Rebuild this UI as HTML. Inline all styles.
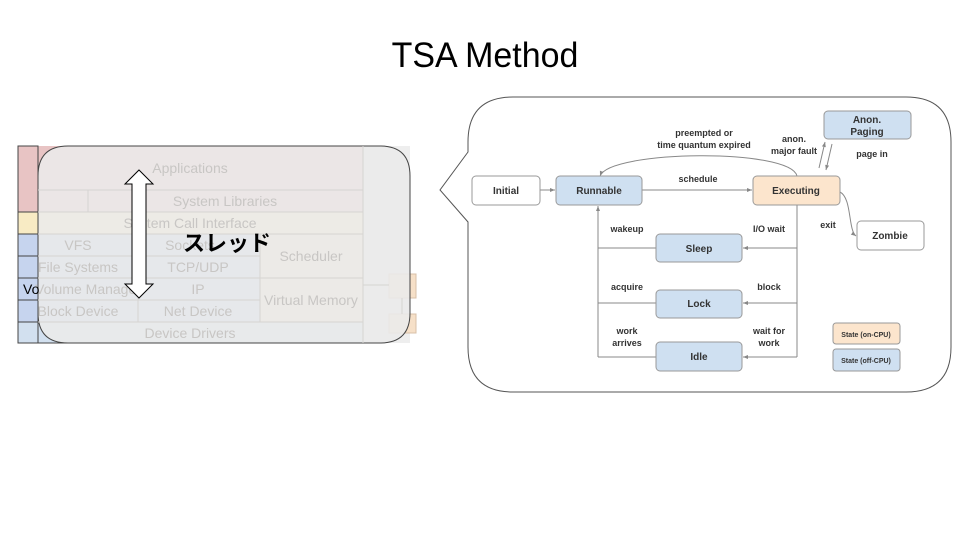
<!DOCTYPE html>
<html><head><meta charset="utf-8"><style>
html,body{margin:0;padding:0;background:#fff;}
svg{display:block;font-family:"Liberation Sans","Noto Sans CJK JP",sans-serif;}
</style></head><body>
<svg width="960" height="540" viewBox="0 0 960 540" xmlns="http://www.w3.org/2000/svg">
<defs>
<marker id="a" markerWidth="6" markerHeight="6" refX="5" refY="3" orient="auto" markerUnits="userSpaceOnUse"><path d="M0,1 L5,3 L0,5 z" fill="#888"/></marker>
</defs>
<text x="485" y="67" font-size="35" text-anchor="middle" fill="#000" transform="translate(485 0) scale(0.97 1) translate(-485 0)">TSA Method</text>

<!-- left stack underlying -->
<rect x="18" y="146" width="345" height="66" fill="#e8c4c4"/>
<rect x="18" y="212" width="345" height="22" fill="#f8ebc4"/>
<rect x="18" y="234" width="242" height="88" fill="#c6d4ee"/>
<rect x="260" y="234" width="103" height="88" fill="#f6e0c8"/>
<rect x="18" y="322" width="345" height="21" fill="#d2e0ef"/>
<g stroke="#444" stroke-width="1" fill="none">
<rect x="18" y="146" width="20" height="197"/>
<line x1="18" y1="212" x2="38" y2="212"/>
<line x1="18" y1="234" x2="38" y2="234"/>
<line x1="18" y1="256" x2="38" y2="256"/>
<line x1="18" y1="278" x2="38" y2="278"/>
<line x1="18" y1="300" x2="38" y2="300"/>
<line x1="18" y1="322" x2="38" y2="322"/>
<line x1="18" y1="343" x2="363" y2="343"/>
</g>
<rect x="363" y="146" width="47" height="197" fill="#eeeeee"/>
<rect x="389" y="274" width="27" height="24" fill="#f6e0c8" stroke="#d8c0a8"/>
<rect x="389" y="314" width="27" height="19" fill="#f6e0c8" stroke="#d8c0a8"/>
<!-- overlay -->
<path d="M68,146 L380,146 Q410,146 410,176 L410,313 Q410,343 380,343 L68,343 Q38,343 38,313 L38,176 Q38,146 68,146 Z" fill="#ebebeb" fill-opacity="0.88" stroke="#444" stroke-width="1"/>
<g stroke="#d6d4d2" stroke-width="1" fill="none">
<line x1="38" y1="190" x2="363" y2="190"/>
<line x1="88" y1="190" x2="88" y2="212"/>
<line x1="38" y1="212" x2="363" y2="212"/>
<line x1="38" y1="234" x2="363" y2="234"/>
<line x1="38" y1="256" x2="260" y2="256"/>
<line x1="38" y1="278" x2="363" y2="278"/>
<line x1="38" y1="300" x2="260" y2="300"/>
<line x1="38" y1="322" x2="363" y2="322"/>
<line x1="138" y1="234" x2="138" y2="322"/>
<line x1="260" y1="234" x2="260" y2="322"/>
<line x1="363" y1="146" x2="363" y2="343"/>
<line x1="363" y1="285" x2="389" y2="285"/>
<line x1="402" y1="298" x2="402" y2="314"/>
</g>
<g fill="#c8c6c4" font-size="14" text-anchor="middle">
<text x="190" y="173">Applications</text>
<text x="225" y="206">System Libraries</text>
<text x="190" y="228">System Call Interface</text>
<text x="78" y="250">VFS</text>
<text x="190" y="250">Sockets</text>
<text x="78" y="272">File Systems</text>
<text x="198" y="272">TCP/UDP</text>
<text x="88" y="294">Volume Manager</text>
<text x="198" y="294">IP</text>
<text x="78" y="316">Block Device</text>
<text x="198" y="316">Net Device</text>
<text x="190" y="338">Device Drivers</text>
<text x="311" y="261">Scheduler</text>
<text x="311" y="305">Virtual Memory</text>
</g>
<text x="23" y="294" font-size="14" fill="#000">Vo</text>
<path d="M139,170 L153,184 L146,184 L146,284 L153,284 L139,298 L125,284 L132,284 L132,184 L125,184 Z" fill="#fff" stroke="#000" stroke-width="1"/>
<text x="227" y="251" font-size="22" font-weight="bold" text-anchor="middle" fill="#000">スレッド</text>

<!-- callout -->
<path d="M513,97 L906,97 Q951,97 951,142 L951,347 Q951,392 906,392 L513,392 Q468,392 468,347 L468,222 L440,190 L468,152 L468,142 Q468,97 513,97 Z" fill="#fff" stroke="#555" stroke-width="1"/>

<g stroke="#888" stroke-width="1" fill="none">
<line x1="540" y1="190" x2="555" y2="190" marker-end="url(#a)"/>
<line x1="642" y1="190" x2="752" y2="190" marker-end="url(#a)"/>
<path d="M797,176 C790,148 610,150 600,176" marker-end="url(#a)"/>
<line x1="797" y1="205" x2="797" y2="357"/>
<line x1="797" y1="248" x2="743" y2="248" marker-end="url(#a)"/>
<line x1="797" y1="303" x2="743" y2="303" marker-end="url(#a)"/>
<line x1="797" y1="357" x2="743" y2="357" marker-end="url(#a)"/>
<line x1="656" y1="248" x2="598" y2="248"/>
<line x1="656" y1="303" x2="598" y2="303"/>
<line x1="656" y1="357" x2="598" y2="357"/>
<line x1="598" y1="357" x2="598" y2="206" marker-end="url(#a)"/>
<line x1="819" y1="168" x2="825" y2="142" marker-end="url(#a)"/>
<line x1="832" y1="144" x2="826" y2="170" marker-end="url(#a)"/>
<path d="M840,192 C852,198 848,230 856,236" marker-end="url(#a)"/>
</g>
<g stroke="#999" stroke-width="1">
<rect x="472" y="176" width="68" height="29" rx="4" fill="#fff"/>
<rect x="556" y="176" width="86" height="29" rx="4" fill="#cfe0f1"/>
<rect x="753" y="176" width="87" height="29" rx="4" fill="#fce5cd"/>
<rect x="824" y="111" width="87" height="28" rx="4" fill="#cfe0f1"/>
<rect x="857" y="221" width="67" height="29" rx="4" fill="#fff"/>
<rect x="656" y="234" width="86" height="28" rx="4" fill="#cfe0f1"/>
<rect x="656" y="290" width="86" height="28" rx="4" fill="#cfe0f1"/>
<rect x="656" y="342" width="86" height="29" rx="4" fill="#cfe0f1"/>
<rect x="833" y="323" width="67" height="21" rx="3" fill="#fce5cd"/>
<rect x="833" y="349" width="67" height="22" rx="3" fill="#cfe0f1"/>
</g>
<g font-size="10" font-weight="bold" fill="#333" text-anchor="middle">
<text x="506" y="194">Initial</text>
<text x="599" y="194">Runnable</text>
<text x="796" y="194">Executing</text>
<text x="867" y="123">Anon.</text>
<text x="867" y="135">Paging</text>
<text x="890" y="239">Zombie</text>
<text x="699" y="252">Sleep</text>
<text x="699" y="307">Lock</text>
<text x="699" y="360">Idle</text>
<text x="704" y="136" font-size="9">preempted or</text>
<text x="704" y="148" font-size="9">time quantum expired</text>
<text x="698" y="182" font-size="9">schedule</text>
<text x="794" y="142" font-size="9">anon.</text>
<text x="794" y="154" font-size="9">major fault</text>
<text x="872" y="157" font-size="9">page in</text>
<text x="828" y="228" font-size="9">exit</text>
<text x="627" y="232" font-size="9">wakeup</text>
<text x="769" y="232" font-size="9">I/O wait</text>
<text x="627" y="290" font-size="9">acquire</text>
<text x="769" y="290" font-size="9">block</text>
<text x="627" y="334" font-size="9">work</text>
<text x="627" y="346" font-size="9">arrives</text>
<text x="769" y="334" font-size="9">wait for</text>
<text x="769" y="346" font-size="9">work</text>
<text x="866" y="337" font-size="7">State (on-CPU)</text>
<text x="866" y="363" font-size="7">State (off-CPU)</text>
</g>
</svg>
</body></html>
